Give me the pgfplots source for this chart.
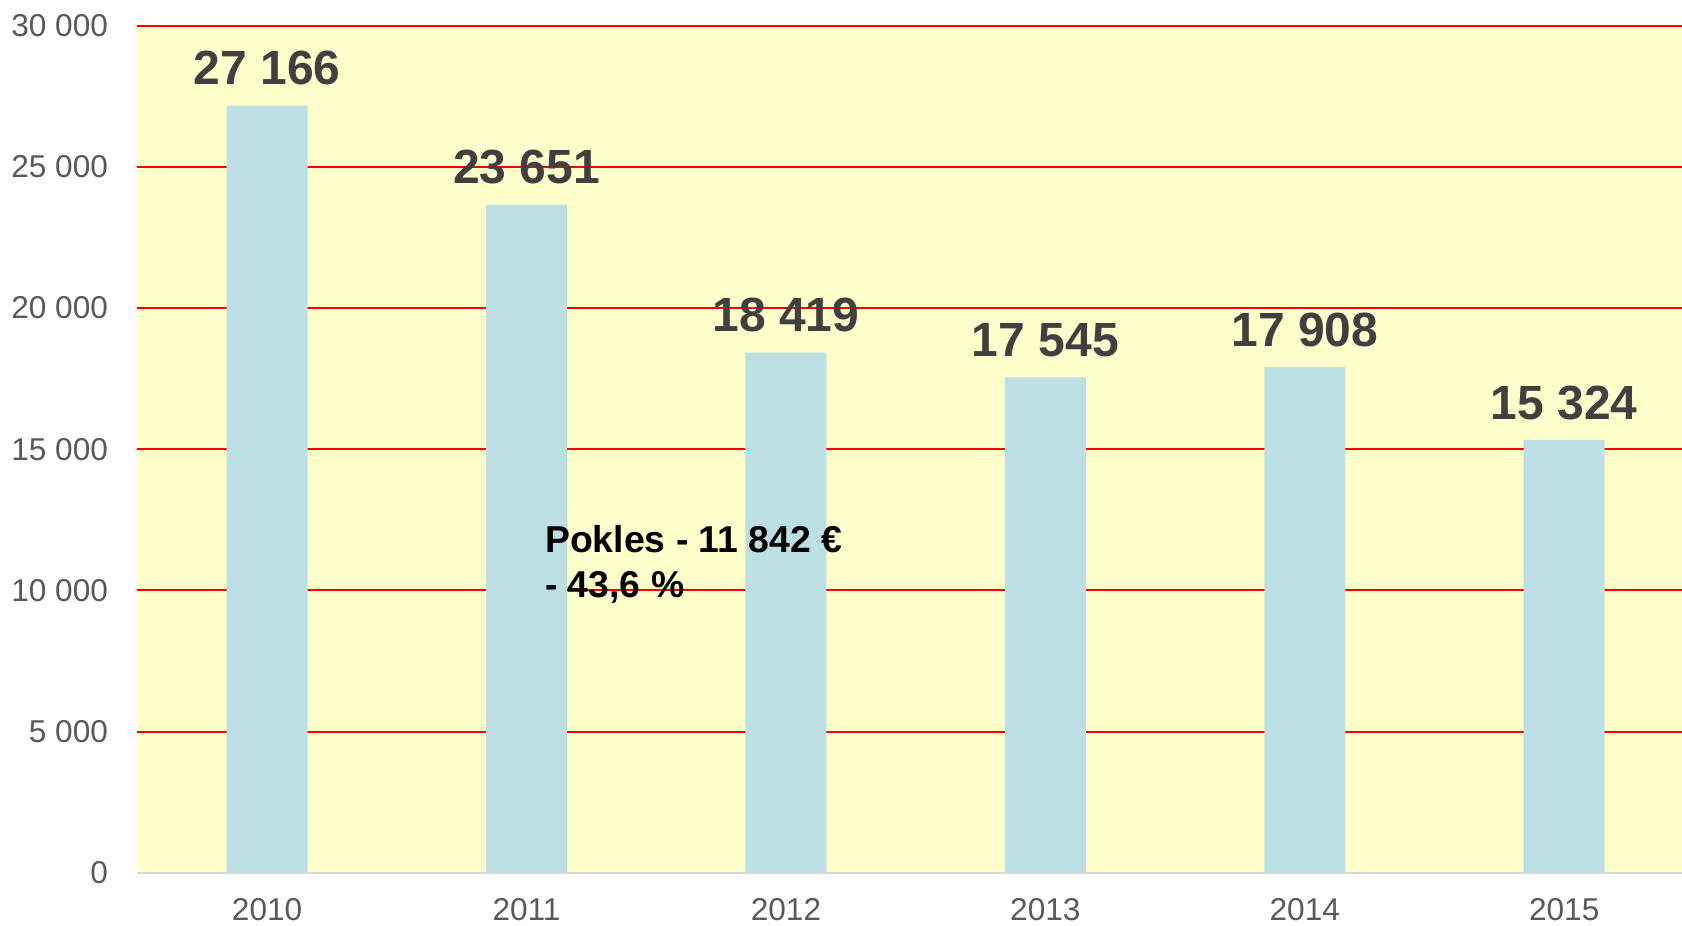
\documentclass[border=0pt]{standalone}
\usepackage{pgfplots}
\pgfplotsset{compat=1.18}
\usepackage{fontspec}
\setmainfont{Liberation Sans}
\definecolor{bgyellow}{HTML}{FFFFCC}
\definecolor{barblue}{HTML}{BBDFE3}
\definecolor{tickgray}{HTML}{595959}
\definecolor{labelgray}{HTML}{404040}
\definecolor{axisgray}{HTML}{D9D9D9}

\begin{document}
\begin{tikzpicture}
\begin{axis}[
  name=ax, at={(0,0)}, anchor=south west,
  scale only axis, width=772.3pt, height=423.5pt,
  xmin=-0.5, xmax=5.454, ymin=0, ymax=30000,
  axis background/.style={fill=bgyellow},
  axis x line*=bottom, axis y line*=left,
  x axis line style={draw=axisgray, line width=1pt, -},
  y axis line style={draw=none},
  xtick=data, xticklabels={2010,2011,2012,2013,2014,2015},
  ytick={0,5000,10000,15000,20000,25000,30000},
  yticklabels={0,5 000,10 000,15 000,20 000,25 000,30 000},
  major tick length=0pt, tick style={draw=none},
  ymajorgrids, grid style={red, line width=1pt},
  ticklabel style={font=\fontsize{15.8}{18}\selectfont, text=tickgray, inner sep=0pt},
  yticklabel style={anchor=east, xshift=-14.5pt},
  xticklabel style={anchor=north, yshift=-12.6pt},
  ybar, bar width=40.5pt,
  nodes near coords={\pgfmathprintnumber[assume math mode=true,1000 sep={\ }]{\pgfplotspointmeta}},
  every node near coord/.append style={anchor=base, yshift=10.5pt, inner sep=0pt,
    font=\bfseries\fontsize{24}{28}\selectfont, text=labelgray},
]
\addplot[fill=barblue, draw=none] coordinates {
  (0,27166) (1,23651) (2,18419) (3,17545) (4,17908) (5,15324)
};
\node[anchor=north west, align=left, inner sep=0pt,
      font=\bfseries\fontsize{18.7}{22.5}\selectfont]
  at (axis cs:1.070,12300) {Pokles - 11 842 €\\- 43,6 \%};
\end{axis}
\pgfresetboundingbox
\path[use as bounding box] ([shift={(-68.7pt,-26.15pt)}]ax.south west)
  rectangle ([shift={(0pt,12.85pt)}]ax.north east);
\end{tikzpicture}
\end{document}
